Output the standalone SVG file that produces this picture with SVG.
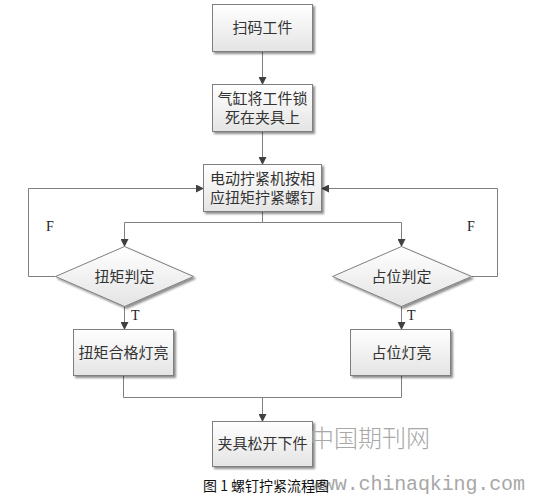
<svg xmlns="http://www.w3.org/2000/svg" width="536" height="496" viewBox="0 0 536 496">
<defs>
<linearGradient id="g" x1="0" y1="0" x2="0" y2="1">
<stop offset="0" stop-color="#ffffff"/>
<stop offset="1" stop-color="#e4e4e4"/>
</linearGradient>
<marker id="ah" markerWidth="8" markerHeight="8" refX="7" refY="4" orient="auto" markerUnits="userSpaceOnUse">
<path d="M0,0 L8,4 L0,8 Z" fill="#404040"/>
</marker>
<filter id="sh" x="-10%" y="-10%" width="130%" height="130%">
<feOffset dx="2" dy="2" in="SourceAlpha" result="o"/>
<feGaussianBlur in="o" stdDeviation="1" result="b"/>
<feColorMatrix in="b" type="matrix" values="0 0 0 0 0  0 0 0 0 0  0 0 0 0 0  0 0 0 0.45 0" result="c"/>
<feMerge><feMergeNode in="c"/><feMergeNode in="SourceGraphic"/></feMerge>
</filter>
</defs>
<style>
.box{fill:url(#g);stroke:#7f7f7f;stroke-width:1;filter:url(#sh)}
.t{font-family:"Noto Sans CJK SC","Liberation Serif",serif;font-size:15px;fill:#333;text-anchor:middle}
.lb{font-family:"Liberation Serif",serif;font-size:14px;fill:#222}
.ln{fill:none;stroke:#7f7f7f;stroke-width:1}
.ar{marker-end:url(#ah)}
</style>
<rect width="536" height="496" fill="#fff"/>
<g id="connectors">
<path class="ln ar" d="M262.5,52 V84"/>
<path class="ln ar" d="M262.5,132 V164"/>
<path class="ln" d="M262.5,212 V222.5"/>
<path class="ln ar" d="M262.5,222.5 H124.5 V246"/>
<path class="ln ar" d="M262.5,222.5 H401.5 V246"/>
<path class="ln ar" d="M55,276.5 H28.5 V188.5 H203"/>
<path class="ln ar" d="M472,276.5 H497.5 V188.5 H322"/>
<path class="ln ar" d="M124.5,306 V329"/>
<path class="ln ar" d="M401.5,306 V329"/>
<path class="ln" d="M123.5,376 V397.5 H401.5 V376"/>
<path class="ln ar" d="M262.5,397.5 V421"/>
<text class="lb" x="46" y="231">F</text>
<text class="lb" x="467" y="231">F</text>
<text class="lb" x="131" y="320">T</text>
<text class="lb" x="407" y="320">T</text>
</g>
<g id="n1"><rect class="box" x="212.5" y="4.5" width="100" height="47"/><text class="t" x="262.5" y="33">扫码工件</text></g>
<g id="n2"><rect class="box" x="212.5" y="84.5" width="100" height="47"/><text class="t" x="262.5" y="104">气缸将工件锁</text><text class="t" x="262.5" y="123">死在夹具上</text></g>
<g id="n3"><rect class="box" x="203.5" y="164.5" width="118" height="47"/><text class="t" x="262.5" y="184">电动拧紧机按相</text><text class="t" x="262.5" y="203">应扭矩拧紧螺钉</text></g>
<g id="d1"><polygon class="box" points="124.5,246.5 193.5,276.5 124.5,306.5 55.5,276.5"/><text class="t" x="124.5" y="282">扭矩判定</text></g>
<g id="d2"><polygon class="box" points="401.5,246.5 471.5,276.5 401.5,306.5 332.5,276.5"/><text class="t" x="401.5" y="282">占位判定</text></g>
<g id="n4"><rect class="box" x="73.5" y="329.5" width="100" height="46"/><text class="t" x="123.5" y="358">扭矩合格灯亮</text></g>
<g id="n5"><rect class="box" x="350.5" y="329.5" width="100" height="46"/><text class="t" x="401.5" y="358">占位灯亮</text></g>
<g id="n6"><rect class="box" x="212.5" y="421.5" width="100" height="45"/><text class="t" x="262.5" y="449">夹具松开下件</text></g>
<text x="310" y="447" font-family="Noto Sans CJK SC,sans-serif" font-size="24" font-weight="300" fill="#a8a8a8" textLength="120">中国期刊网</text>
<text x="311" y="490" font-family="Liberation Mono,monospace" font-size="20" fill="#a8a8a8" textLength="214">www.chinaqking.com</text>
<text x="203" y="491" font-family="Noto Sans CJK SC,sans-serif" font-size="14" fill="#111">图 1 螺钉拧紧流程图</text>
</svg>
